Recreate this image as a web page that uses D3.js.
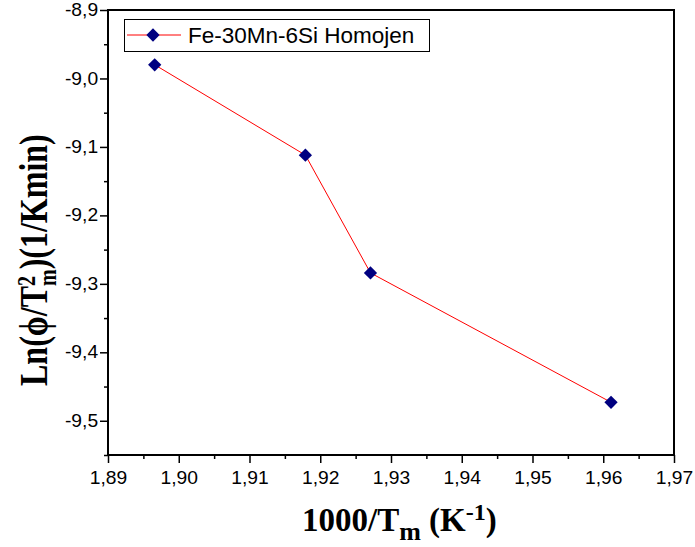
<!DOCTYPE html>
<meta charset="utf-8">
<style>
    body { margin: 0; background: #fff; }
    .tick text { font: 17.5px "Liberation Sans", Arial, sans-serif; fill: #000; }
    .tick line { stroke: #000; stroke-width: 1.5px; }
    .frame { fill: none; stroke: #000; stroke-width: 2px; }
    .series { fill: none; stroke: #ff0000; stroke-width: 1px; }
    .title { font-family: "Liberation Serif", "Times New Roman", serif; font-weight: bold; fill: #000; }
    .legend text { font: 22.5px "Liberation Sans", Arial, sans-serif; fill: #000; }
</style>
<svg></svg>
<script src="https://cdn.jsdelivr.net/npm/d3@7"></script>
<script>

    var width = 695,
        height = 547;

    // values
    var seriesName = "Fe-30Mn-6Si Homojen";
    var xValues = [1.8966, 1.9179, 1.9271, 1.9611];
    var yValues = [-8.980, -9.112, -9.284, -9.473];
    var xTicks = [1.89, 1.90, 1.91, 1.92, 1.93, 1.94, 1.95, 1.96, 1.97];
    var yTicks = [-9.5, -9.4, -9.3, -9.2, -9.1, -9.0, -8.9];

    var margin = {top: 10, right: 21, bottom: 92, left: 108};

    var svg = d3.select("svg")
        .attr("width", width)
        .attr("height", height);

    var x = d3.scaleLinear()
        .domain([1.89, 1.97])
        .range([margin.left, width - margin.right]);

    var y = d3.scaleLinear()
        .domain([-9.55, -8.9])
        .range([height - margin.bottom, margin.top]);

    var comma = function(f) { return function(d) { return d3.format(f)(d).replace(".", ",").replace("−", "-"); }; };

    // minor ticks
    var xMinor = d3.range(xTicks.length - 1).map(function(i) { return (xTicks[i] + xTicks[i + 1]) / 2; });
    var yMinor = d3.range(yTicks.length - 1).map(function(i) { return (yTicks[i] + yTicks[i + 1]) / 2; });
    yMinor.unshift(yTicks[0] - 0.05);

    svg.append("g")
        .attr("transform", "translate(0," + y.range()[0] + ")")
        .call(d3.axisBottom(x).tickValues(xMinor).tickSize(4).tickFormat(""))
        .call(function(g) { g.select(".domain").remove(); });

    svg.append("g")
        .attr("transform", "translate(" + x.range()[0] + ",0)")
        .call(d3.axisLeft(y).tickValues(yMinor).tickSize(4).tickFormat(""))
        .call(function(g) { g.select(".domain").remove(); });

    svg.append("g")
        .attr("transform", "translate(0," + y.range()[0] + ")")
        .call(d3.axisBottom(x).tickValues(xTicks).tickSize(8).tickPadding(9).tickFormat(comma(".2f")))
        .call(function(g) { g.select(".domain").remove(); })
        .selectAll("text").attr("transform", "scale(1.1,1)");

    svg.append("g")
        .attr("transform", "translate(" + x.range()[0] + ",0)")
        .call(d3.axisLeft(y).tickValues(yTicks).tickSize(8).tickPadding(1).tickFormat(comma(".1f")))
        .call(function(g) { g.select(".domain").remove(); })
        .selectAll("text").attr("transform", "scale(1.1,1)");

    svg.append("rect")
        .attr("class", "frame")
        .attr("x", x.range()[0])
        .attr("y", y.range()[1])
        .attr("width", x.range()[1] - x.range()[0])
        .attr("height", y.range()[0] - y.range()[1]);

    var points = xValues.map(function(v, i) { return [v, yValues[i]]; });

    svg.append("path")
        .datum(points)
        .attr("class", "series")
        .attr("d", d3.line().x(function(d) { return x(d[0]); }).y(function(d) { return y(d[1]); }));

    var diamond = d3.symbol().type(d3.symbolSquare).size(88);

    svg.selectAll(".pt")
        .data(points)
        .enter().append("path")
        .attr("class", "pt")
        .attr("d", diamond)
        .attr("fill", "#000080")
        .attr("transform", function(d) { return "translate(" + x(d[0]) + "," + y(d[1]) + ") rotate(45)"; });

    // legend
    var legend = svg.append("g").attr("class", "legend");
    legend.append("rect")
        .attr("x", 124.5).attr("y", 19.5)
        .attr("width", 305).attr("height", 32)
        .attr("fill", "#fff").attr("stroke", "#000").attr("stroke-width", 1);
    legend.append("line")
        .attr("x1", 127).attr("x2", 181).attr("y1", 35).attr("y2", 35)
        .attr("stroke", "#ff0000").attr("stroke-width", 1);
    legend.append("path")
        .attr("d", diamond)
        .attr("fill", "#000080")
        .attr("transform", "translate(153,35) rotate(45)");
    legend.append("text")
        .attr("x", 188).attr("y", 43)
        .text(seriesName);

    // x title
    var xt = svg.append("text")
        .attr("class", "title")
        .attr("x", 302).attr("y", 531)
        .style("font-size", "33px");
    xt.append("tspan").text("1000/T");
    xt.append("tspan").attr("dy", 9).style("font-size", "26px").text("m");
    xt.append("tspan").attr("dy", -9).text(" (K");
    xt.append("tspan").attr("dy", -11).style("font-size", "24px").text("-1");
    xt.append("tspan").attr("dy", 11).text(")");

    // y title
    var yt = svg.append("text")
        .attr("class", "title")
        .attr("transform", "translate(47,386) rotate(-90) scale(1,1.25)")
        .style("font-size", "32px");
    yt.append("tspan").text("Ln(\u03D5/T");
    yt.append("tspan").attr("dy", -10).style("font-size", "20px").text("2");
    yt.append("tspan").attr("dx", -10).attr("dy", 17).style("font-size", "20px").text("m");
    yt.append("tspan").attr("dy", -7).text(")(1/Kmin)");

</script>
